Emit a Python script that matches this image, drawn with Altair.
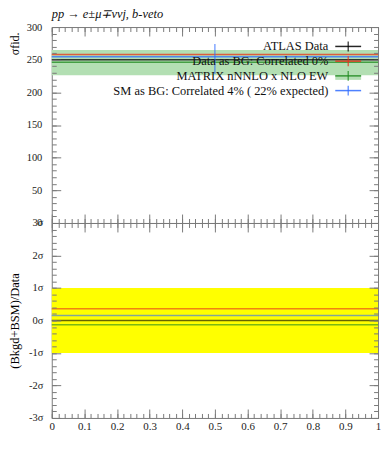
import altair as alt
import pandas as pd

# ---------------- data ----------------
x_span = [0.0, 1.0]
series_names = ["ATLAS Data", "Data as BG: Correlated 0%", "MATRIX nNNLO x NLO EW",
                "SM as BG: Correlated 4% ( 22% expected)"]
top_values = [250.0, 258.0, 246.0, 254.5]          # sigma_fid lines
matrix_band = [226.0, 265.0]                         # MATRIX uncertainty band
sm_err_x = [0.5]
sm_err = [228.0, 274.0]                              # SM error bar
ratio_values = [0.0, 0.36, -0.13, 0.15]              # (Bkgd+BSM)/Data in sigma
ratio_band = [-1.0, 1.0]                             # yellow 1 sigma band

top_y_ticks = [0, 50, 100, 150, 200, 250, 300]
top_y_minor = [v for v in range(0, 301, 10)]
ratio_y_ticks = [-3, -2, -1, 0, 1, 2, 3]
ratio_y_minor = [round(-3 + 0.2 * i, 1) for i in range(31)]
x_ticks = [round(0.1 * i, 1) for i in range(11)]
x_minor = [round(0.02 * i, 2) for i in range(51)]

# ---------------- styles ----------------
series_colors = ["#000000", "#e8311a", "#1f8a1f", "#2f6bff"]
BAND_GREEN = "#b3dfb3"
YELLOW = "#ffff00"
FRAME = "#7a7a7a"
FONT = "Liberation Serif"
W, H1, H2 = 328, 197, 196
MAJ, MIN = 9, 4.5

lines_df = pd.DataFrame({"name": series_names, "value": top_values, "color": series_colors,
                         "x0": x_span[0], "x1": x_span[1]})
ratio_df = pd.DataFrame({"name": series_names, "value": ratio_values, "color": series_colors,
                         "x0": x_span[0], "x1": x_span[1]})
mband_df = pd.DataFrame({"x0": [x_span[0]], "x1": [x_span[1]], "lo": [matrix_band[0]], "hi": [matrix_band[1]]})
rband_df = pd.DataFrame({"x0": [x_span[0]], "x1": [x_span[1]], "lo": [ratio_band[0]], "hi": [ratio_band[1]]})
err_df = pd.DataFrame({"x": sm_err_x, "lo": [sm_err[0]], "hi": [sm_err[1]]})
legend_df = pd.DataFrame({"label": series_names, "color": series_colors, "i": list(range(4))})

xs = alt.Scale(domain=x_span, nice=False, zero=False)
ys_top = alt.Scale(domain=[0, 300], nice=False, zero=False)
ys_bot = alt.Scale(domain=[-3, 3], nice=False, zero=False)


def tick_axis(orient, offset, values, size):
    return alt.Axis(orient=orient, offset=offset, values=values, tickSize=size, tickColor=FRAME,
                    tickWidth=1, labels=False, domain=False, grid=False, title=None, zindex=2)


def carrier(df, yfield, yscale, xaxis, yaxis):
    return alt.Chart(df).mark_point(opacity=0, size=1).encode(
        x=alt.X("x0:Q", scale=xs, axis=xaxis),
        y=alt.Y(yfield, type="quantitative", scale=yscale, axis=yaxis),
    )


# ---------------- top panel ----------------
top_label_axis = alt.Axis(orient="left", values=top_y_ticks, ticks=False, domain=False, grid=False,
                          labelPadding=10, labelFontSize=10.5, labelFont=FONT, labelColor="#222",
                          title="σfid.", titleFont=FONT, titleFontSize=12, titleFontWeight="normal",
                          titleAngle=-90, titleX=-37, titleY=5, titleAlign="right",
                          titleBaseline="middle", labelOverlap=False)

top_carriers = [
    carrier(lines_df, "value", ys_top, tick_axis("bottom", -H1, x_ticks, MAJ), top_label_axis),
    carrier(lines_df, "value", ys_top, tick_axis("bottom", -H1, x_minor, MIN), tick_axis("right", -W, top_y_ticks, MAJ)),
    carrier(lines_df, "value", ys_top, tick_axis("top", -H1, x_ticks, MAJ), tick_axis("right", -W, top_y_minor, MIN)),
    carrier(lines_df, "value", ys_top, tick_axis("top", -H1, x_minor, MIN), tick_axis("left", -W, top_y_ticks, MAJ)),
    carrier(lines_df, "value", ys_top, None, tick_axis("left", -W, top_y_minor, MIN)),
]

top_band = alt.Chart(mband_df).mark_rect(color=BAND_GREEN).encode(
    x=alt.X("x0:Q", scale=xs, axis=None), x2="x1:Q",
    y=alt.Y("lo:Q", scale=ys_top, axis=None), y2="hi:Q")
top_lines = alt.Chart(lines_df).mark_rule(strokeWidth=1.5, opacity=0.75).encode(
    x=alt.X("x0:Q", scale=xs, axis=None), x2="x1:Q",
    y=alt.Y("value:Q", scale=ys_top, axis=None),
    color=alt.Color("color:N", scale=None))
top_err = alt.Chart(err_df).mark_rule(strokeWidth=1.2, color=series_colors[3], opacity=0.75).encode(
    x=alt.X("x:Q", scale=xs, axis=None),
    y=alt.Y("lo:Q", scale=ys_top, axis=None), y2="hi:Q")

leg = alt.Chart(legend_df).transform_calculate(
    py="19.5 + 14.8 * datum.i", pa="19.5 + 14.8 * datum.i - 5", pb="19.5 + 14.8 * datum.i + 5",
    qa="19.5 + 14.8 * datum.i - 4", qb="19.5 + 14.8 * datum.i + 4")
leg_band = leg.transform_filter("datum.i == 2").mark_rect(color=BAND_GREEN).encode(
    x=alt.value(285), x2=alt.value(311), y=alt.Y("qa:Q", scale=None), y2="qb:Q")
leg_h = leg.mark_rule(strokeWidth=1.5, opacity=0.85).encode(
    x=alt.value(285), x2=alt.value(311), y=alt.Y("py:Q", scale=None),
    color=alt.Color("color:N", scale=None))
leg_v = leg.mark_rule(strokeWidth=1.2, opacity=0.85).encode(
    x=alt.value(298), y=alt.Y("pa:Q", scale=None), y2="pb:Q",
    color=alt.Color("color:N", scale=None))
leg_text = leg.mark_text(align="right", baseline="middle", font=FONT, fontSize=12.5, color="#111").encode(
    x=alt.value(278), y=alt.Y("py:Q", scale=None), text="label:N")

top = alt.layer(top_band, top_lines, top_err, leg_band, leg_h, leg_v, leg_text, *top_carriers).resolve_axis(
    x="independent", y="independent").properties(
    width=W, height=H1,
    title=alt.TitleParams(text="pp → e±μ∓ννj, b-veto", anchor="start", frame="group", font=FONT,
                          fontSize=12.5, fontStyle="italic", fontWeight="normal", color="#111", offset=2))

# ---------------- bottom panel ----------------
bot_label_y = alt.Axis(orient="left", values=ratio_y_ticks, ticks=False, domain=False, grid=False,
                       labelPadding=9, labelFontSize=10.5, labelFont=FONT, labelColor="#222",
                       labelExpr="datum.value + 'σ'", labelOverlap=False,
                       title="(Bkgd+BSM)/Data", titleFont=FONT, titleFontSize=12.5,
                       titleFontWeight="normal", titleX=-37, titleBaseline="middle")
bot_label_x = alt.Axis(orient="bottom", values=x_ticks, ticks=False, domain=False, grid=False,
                       labelPadding=3, labelFontSize=11, labelFont=FONT, labelColor="#222",
                       labelExpr="format(datum.value, '.1~f')", labelFlush=False, labelOverlap=False,
                       title=None)

bot_carriers = [
    carrier(ratio_df, "value", ys_bot, bot_label_x, bot_label_y),
    carrier(ratio_df, "value", ys_bot, tick_axis("bottom", -H2, x_ticks, MAJ), tick_axis("right", -W, ratio_y_ticks, MAJ)),
    carrier(ratio_df, "value", ys_bot, tick_axis("bottom", -H2, x_minor, MIN), tick_axis("right", -W, ratio_y_minor, MIN)),
    carrier(ratio_df, "value", ys_bot, tick_axis("top", -H2, x_ticks, MAJ), tick_axis("left", -W, ratio_y_ticks, MAJ)),
    carrier(ratio_df, "value", ys_bot, tick_axis("top", -H2, x_minor, MIN), tick_axis("left", -W, ratio_y_minor, MIN)),
]

bot_band = alt.Chart(rband_df).mark_rect(color=YELLOW).encode(
    x=alt.X("x0:Q", scale=xs, axis=None), x2="x1:Q",
    y=alt.Y("lo:Q", scale=ys_bot, axis=None), y2="hi:Q")
bot_lines = alt.Chart(ratio_df).mark_rule(strokeWidth=1.5, opacity=0.6).encode(
    x=alt.X("x0:Q", scale=xs, axis=None), x2="x1:Q",
    y=alt.Y("value:Q", scale=ys_bot, axis=None),
    color=alt.Color("color:N", scale=None))

bottom = alt.layer(bot_band, bot_lines, *bot_carriers).resolve_axis(
    x="independent", y="independent").properties(width=W, height=H2)

chart = alt.vconcat(top, bottom, spacing=0, bounds="flush").properties(
    padding={"left": 0, "top": -2, "right": 2, "bottom": 2},
).configure_view(stroke=FRAME, strokeWidth=1)

chart.save("out.html", embed_options={"renderer": "svg", "actions": False})
